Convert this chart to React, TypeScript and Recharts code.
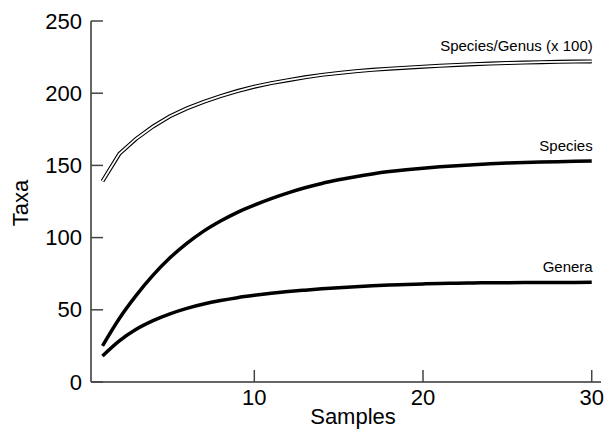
import React from 'react';
import { LineChart, Line, XAxis, YAxis, LabelList, Label } from 'recharts';

const samples = [1, 2, 3, 4, 5, 6, 7, 8, 9, 10, 11, 12, 13, 14, 15, 16, 17, 18, 19, 20, 21, 22, 23, 24, 25, 26, 27, 28, 29, 30];
const ratio = [139, 158, 168.5, 177, 184, 189.5, 194, 198, 201.5, 204.5, 207, 209, 211, 212.7, 214, 215.2, 216.2, 217, 217.7, 218.4, 219, 219.6, 220.1, 220.5, 220.9, 221.2, 221.5, 221.7, 221.9, 222];
const species = [25, 44, 60, 74, 86, 96, 104.5, 111.5, 117.5, 122.5, 127, 131, 134.5, 137.5, 140, 142.2, 144.1, 145.7, 147, 148.1, 149, 149.8, 150.5, 151.1, 151.6, 152, 152.3, 152.6, 152.8, 153];
const genera = [18, 28.5, 36.5, 42.5, 47.2, 51, 54, 56.4, 58.4, 60, 61.4, 62.6, 63.6, 64.5, 65.3, 66, 66.6, 67.1, 67.5, 67.9, 68.2, 68.4, 68.6, 68.7, 68.8, 68.85, 68.9, 68.9, 68.95, 69];
const xTicks = [10, 20, 30];
const yTicks = [0, 50, 100, 150, 200, 250];

const data = samples.map((s, i) => ({ s, ratio: ratio[i], species: species[i], genera: genera[i] }));

const FONT = '"Liberation Sans", Arial, Helvetica, sans-serif';
const AXIS = '#666';

const YTick = (props: any) => {
  const { x, y, payload } = props;
  return (
    <g>
      <line x1={x + 9} y1={y} x2={x + 21} y2={y} stroke="#444" strokeWidth={1.5} />
      <text x={x} y={y} textAnchor="end" dominantBaseline="central" fontSize={22} fontFamily={FONT} fill="#000">
        {payload.value}
      </text>
    </g>
  );
};

const XTick = (props: any) => {
  const { x, y, payload } = props;
  return (
    <g>
      <line x1={x} y1={y - 7} x2={x} y2={y - 19} stroke="#444" strokeWidth={1.5} />
      <text x={x} y={y} dy="0.71em" textAnchor="middle" fontSize={22} fontFamily={FONT} fill="#000">
        {payload.value}
      </text>
    </g>
  );
};

const endLabel = (text: string) => (props: any) => {
  const { x, y, index } = props;
  if (index !== data.length - 1) return null;
  return (
    <text x={x + 1} y={y - 16} textAnchor="end" dominantBaseline="central" fontSize={15} fontFamily={FONT} fill="#000">
      {text}
    </text>
  );
};

const SamplesLabel = (props: any) => {
  const vb = props.viewBox;
  return (
    <text x={vb.x + vb.width / 2 + 7} y={vb.y + 42} textAnchor="middle" fontSize={22} fontFamily={FONT} fill="#000">
      Samples
    </text>
  );
};

const TaxaLabel = (props: any) => {
  const vb = props.viewBox;
  const cy = vb.y + vb.height / 2 + 1.5;
  return (
    <text transform={`translate(28, ${cy}) rotate(-90)`} textAnchor="middle" fontSize={22} fontFamily={FONT} fill="#000">
      Taxa
    </text>
  );
};

export default function App() {
  return (
    <div style={{ position: 'absolute', left: 0, top: 0, background: '#fff' }}>
      <LineChart width={607} height={430} data={data} margin={{ top: 21, right: 6, bottom: 0, left: 0 }}>
        <XAxis
          dataKey="s"
          type="number"
          domain={[0.32, 30.55]}
          allowDataOverflow
          ticks={xTicks}
          height={48}
          tickSize={0}
          tickLine={false}
          tickMargin={7}
          tick={<XTick />}
          axisLine={{ stroke: AXIS, strokeWidth: 2 }}
        >
          <Label content={<SamplesLabel />} />
        </XAxis>
        <YAxis
          type="number"
          domain={[0, 250]}
          ticks={yTicks}
          width={91}
          tickSize={0}
          tickLine={false}
          tickMargin={9}
          tick={<YTick />}
          axisLine={{ stroke: AXIS, strokeWidth: 2 }}
        >
          <Label content={<TaxaLabel />} />
        </YAxis>
        <Line type="linear" dataKey="ratio" stroke="#000" strokeWidth={4} dot={false} isAnimationActive={false} />
        <Line type="linear" dataKey="ratio" stroke="#fff" strokeWidth={1.8} dot={false} isAnimationActive={false}>
          <LabelList dataKey="ratio" content={endLabel('Species/Genus (x 100)')} />
        </Line>
        <Line type="monotone" dataKey="species" stroke="#000" strokeWidth={3.5} dot={false} isAnimationActive={false}>
          <LabelList dataKey="species" content={endLabel('Species')} />
        </Line>
        <Line type="monotone" dataKey="genera" stroke="#000" strokeWidth={3.5} dot={false} isAnimationActive={false}>
          <LabelList dataKey="genera" content={endLabel('Genera')} />
        </Line>
      </LineChart>
    </div>
  );
}
